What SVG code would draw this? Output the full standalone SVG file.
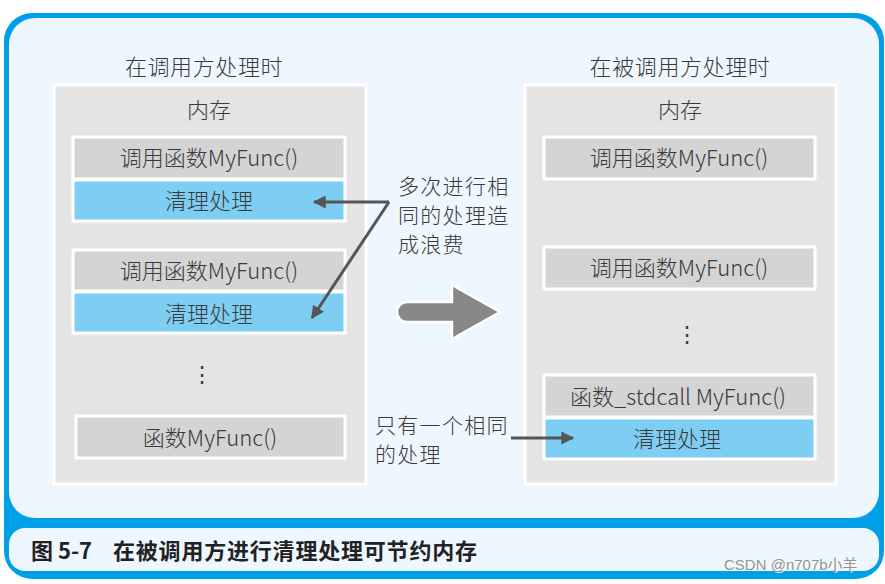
<svg xmlns="http://www.w3.org/2000/svg" width="885" height="584" viewBox="0 0 885 584">
<defs>
<style>
.t{font-family:"Noto Sans CJK SC","Liberation Sans",sans-serif;font-size:22px;font-weight:300;fill:#3a3a3a;text-anchor:middle;dominant-baseline:central;}
.tl{text-anchor:start;font-size:21px;letter-spacing:1.3px;}
.panel{fill:#e4e4e4;stroke:#ffffff;stroke-width:3;}
.gbox{fill:#d4d4d4;stroke:#ffffff;stroke-width:3;}
.bbox{fill:#7ecef4;stroke:#ffffff;stroke-width:3;}
.conn{stroke:#555555;stroke-width:3;fill:none;}
.cap{font-family:"Noto Sans CJK SC","Liberation Sans",sans-serif;font-size:22px;font-weight:bold;fill:#222222;dominant-baseline:central;}
</style>
<marker id="ah" viewBox="0 0 10 10" refX="9" refY="5" markerWidth="18" markerHeight="13" markerUnits="userSpaceOnUse" orient="auto">
<path d="M0,0 L10,5 L0,10 z" fill="#555555"/>
</marker>
</defs>
<rect x="0" y="0" width="885" height="584" fill="#ffffff"/>
<g id="frame">
<rect x="4" y="13" width="880" height="566" rx="28" fill="#00a0e9"/>
<rect x="9" y="18" width="870" height="500" rx="26" fill="#eef6fe"/>
<rect x="9" y="528" width="870" height="43" rx="16" fill="#eef6fe"/>
</g>
<g id="caption">
<text class="cap" x="31" y="549">图 5-7</text>
<text class="cap" x="113" y="549" letter-spacing="0.8">在被调用方进行清理处理可节约内存</text>
</g>
<g id="left">
<text class="t" x="204" y="65" letter-spacing="0.6">在调用方处理时</text>
<rect class="panel" x="54" y="85" width="312" height="399"/>
<text class="t" x="209" y="108">内存</text>
</g>
<g id="left-call1">
<rect class="gbox" x="73" y="137" width="272" height="42"/>
<text class="t" x="209" y="156">调用函数MyFunc()</text>
</g>
<g id="left-clean1">
<rect class="bbox" x="73" y="180" width="272" height="41"/>
<text class="t" x="209" y="199">清理处理</text>
</g>
<g id="left-call2">
<rect class="gbox" x="73" y="250" width="272" height="41"/>
<text class="t" x="209" y="269">调用函数MyFunc()</text>
</g>
<g id="left-clean2">
<rect class="bbox" x="73" y="292" width="272" height="41"/>
<text class="t" x="209" y="312">清理处理</text>
</g>
<g id="left-dots">
<text class="t" x="202" y="372">⋮</text>
</g>
<g id="left-func">
<rect class="gbox" x="76" y="416" width="269" height="42"/>
<text class="t" x="210" y="436">函数MyFunc()</text>
</g>
<g id="right">
<text class="t" x="680" y="65" letter-spacing="0.6">在被调用方处理时</text>
<rect class="panel" x="525" y="85" width="311" height="399"/>
<text class="t" x="680" y="108">内存</text>
</g>
<g id="right-call1">
<rect class="gbox" x="544" y="137" width="271" height="42"/>
<text class="t" x="679" y="156">调用函数MyFunc()</text>
</g>
<g id="right-call2">
<rect class="gbox" x="544" y="247" width="271" height="42"/>
<text class="t" x="679" y="266">调用函数MyFunc()</text>
</g>
<g id="right-dots">
<text class="t" x="687" y="332">⋮</text>
</g>
<g id="right-func">
<rect class="gbox" x="544" y="375" width="271" height="42"/>
<text class="t" x="678" y="395">函数_stdcall MyFunc()</text>
</g>
<g id="right-clean">
<rect class="bbox" x="544" y="418" width="271" height="41"/>
<text class="t" x="677" y="437">清理处理</text>
</g>
<g id="note1">
<text class="t tl" x="398" y="185">多次进行相</text>
<text class="t tl" x="398" y="214">同的处理造</text>
<text class="t tl" x="398" y="243">成浪费</text>
</g>
<g id="note2">
<text class="t tl" x="375" y="424">只有一个相同</text>
<text class="t tl" x="375" y="453">的处理</text>
</g>
<g id="big-arrow">
<path d="M407,302 L452,302 L452,285 L500,312 L452,339 L452,322 L407,322 A10,10 0 0 1 407,302 Z" fill="#888888" stroke="#ffffff" stroke-width="2.5"/>
</g>
<g id="connectors">
<path class="conn" d="M389,202 L314,202" marker-end="url(#ah)"/>
<path class="conn" d="M389,202 L312,318" marker-end="url(#ah)"/>
<path class="conn" d="M511,438 L573,438" marker-end="url(#ah)"/>
</g>
<g id="watermark">
<text x="725" y="571" font-family="Liberation Sans, sans-serif" font-size="15" fill="#ffffff" opacity="0.8">CSDN @n707b小羊</text>
<text x="724" y="570" font-family="Liberation Sans, 'Noto Sans CJK SC', sans-serif" font-size="15" fill="#8a8a8a" opacity="0.9">CSDN @n707b小羊</text>
</g>
</svg>
